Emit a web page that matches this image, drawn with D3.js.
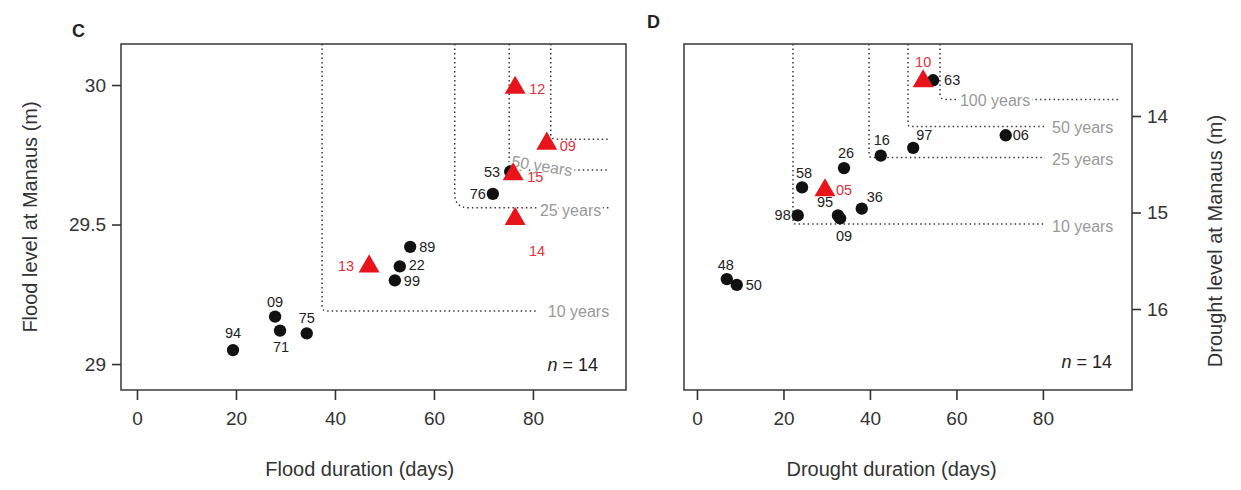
<!DOCTYPE html>
<html>
<head>
<meta charset="utf-8">
<script src="https://cdn.jsdelivr.net/npm/d3@7"></script>
<style>
  body { margin: 0; background: #fff; }
  text { font-family: "Liberation Sans", Arial, sans-serif; }
</style>
</head>
<body>
<script>
// ---- panel C: floods ----
const floodYears = ["94", "09", "71", "75", "13", "22", "99", "89", "14", "76", "53", "15", "09", "12"];
const floodDays  = [19.4, 27.9, 28.9, 34.3, 46.9, 53.1, 52.1, 55.2, 76.4, 71.9, 75.4, 76.0, 82.8, 76.4];
const floodLevel = [29.05, 29.17, 29.12, 29.11, 29.35, 29.35, 29.30, 29.42, 29.52, 29.61, 29.69, 29.68, 29.79, 29.99];
const floodRecent = [0, 0, 0, 0, 1, 0, 0, 0, 1, 0, 0, 1, 1, 1];

const floodRpLabel = ["10 years", "25 years", "50 years", ""];
const floodRpDays  = [37.4, 64.2, 75.2, 83.6];
const floodRpLevel = [29.19, 29.56, 29.695, 29.806];

// ---- panel D: droughts ----
const droughtYears = ["10", "63", "97", "16", "06", "26", "58", "05", "36", "98", "95", "09", "48", "50"];
const droughtDays  = [52.3, 54.6, 50.0, 42.5, 71.4, 34.0, 24.3, 29.6, 38.1, 23.3, 32.6, 33.1, 6.9, 9.2];
const droughtLevel = [13.64, 13.63, 14.33, 14.41, 14.20, 14.54, 14.74, 14.77, 14.96, 15.03, 15.03, 15.06, 15.69, 15.75];
const droughtRecent = [1, 0, 0, 0, 0, 0, 0, 1, 0, 0, 0, 0, 0, 0];

const droughtRpLabel = ["10 years", "25 years", "50 years", "100 years"];
const droughtRpDays  = [22.2, 39.8, 48.8, 56.2];
const droughtRpLevel = [15.12, 14.43, 14.11, 13.83];

const xTicks = [0, 20, 40, 60, 80];
const floodTicks = [29, 29.5, 30];
const droughtTicks = [14, 15, 16];

// label placement (style only): [dx, dy, anchor]
const floodPlace = [[0,-17,"middle"],[0,-15,"middle"],[1,16,"middle"],[0,-15,"middle"],[-15,0,"end"],
  [9,-1,"start"],[9,1,"start"],[9,0,"start"],[22,32,"middle"],[-7,0,"end"],[-10,0,"end"],
  [14,3,"start"],[13,2,"start"],[14,1,"start"]];
const droughtPlace = [[0,-19,"middle"],[11,0,"start"],[3,-13,"start"],[1,-16,"middle"],[7,0,"start"],
  [2,-15,"middle"],[2,-14,"middle"],[11,0,"start"],[5,-12,"start"],[-7,0,"end"],[-13,-13,"middle"],
  [4,18,"middle"],[-1,-14,"middle"],[9,0,"start"]];

const RED = "#e8141c", REDTXT = "#e0313c", DARK = "#333", GREY = "#999";
const W = 1241, H = 490;

const svg = d3.select("body").append("svg")
    .attr("width", W).attr("height", H)
    .attr("viewBox", [0, 0, W, H]);

function drawPanel(o) {
    const x = d3.scaleLinear().domain(o.xDomain).range([o.left, o.right]);
    const y = d3.scaleLinear().domain(o.yDomain).range([o.bottom, o.top]);
    const g = svg.append("g");

    // return-period curves
    const rp = g.append("g");
    o.rpDays.forEach((dd, i) => {
        const xv = x(dd), yh = y(o.rpLevel[i]), xe = x(o.rpEnd[i]), r = o.rpRadius[i];
        rp.append("path")
            .attr("d", `M${xv},${o.top} L${xv},${yh - r} Q${xv},${yh} ${xv + r},${yh} L${xe},${yh}`)
            .attr("fill", "none")
            .attr("stroke", "#3a3a3a")
            .attr("stroke-width", 1.5)
            .attr("stroke-dasharray", "1.5,3");
        if (o.rpLabel[i]) {
            const t = rp.append("text")
                .attr("x", x(o.rpLabelDays[i]))
                .attr("y", y(o.rpLevel[i]) + o.rpLabelDy[i])
                .attr("dominant-baseline", "central")
                .attr("font-size", 16)
                .attr("fill", GREY)
                .attr("stroke", "#fff").attr("stroke-width", 5)
                .attr("paint-order", "stroke")
                .text(o.rpLabel[i]);
            if (o.rpLabelRot[i]) {
                t.attr("transform", `rotate(${o.rpLabelRot[i]},${x(o.rpLabelDays[i])},${y(o.rpLevel[i]) + o.rpLabelDy[i]})`);
            }
        }
    });

    // box
    g.append("rect")
        .attr("x", o.left).attr("y", o.top)
        .attr("width", o.right - o.left).attr("height", o.bottom - o.top)
        .attr("fill", "none").attr("stroke", "#444").attr("stroke-width", 1.6);

    // axes
    const xAxis = g.append("g")
        .attr("transform", `translate(0,${o.bottom})`)
        .call(d3.axisBottom(x).tickValues(xTicks).tickSize(10).tickPadding(12));
    const yAxis = g.append("g")
        .attr("transform", `translate(${o.yRight ? o.right : o.left},0)`)
        .call((o.yRight ? d3.axisRight(y) : d3.axisLeft(y))
            .tickValues(o.yTicks).tickSize(9).tickPadding(6).tickFormat(d => String(d)));
    [xAxis, yAxis].forEach(a => {
        a.select(".domain").remove();
        a.selectAll("line").attr("stroke", "#333").attr("stroke-width", 1.6);
        a.selectAll("text").attr("font-size", 19).attr("fill", DARK)
            .attr("font-family", "'Liberation Sans', Arial, sans-serif");
    });

    // titles
    g.append("text")
        .attr("x", x(45)).attr("y", 469)
        .attr("text-anchor", "middle").attr("dominant-baseline", "central")
        .attr("font-size", 20).attr("fill", DARK)
        .text(o.xTitle);
    const ty = (o.top + o.bottom) / 2 + o.yTitleShift;
    g.append("text")
        .attr("transform", `translate(${o.yTitleX},${ty}) rotate(-90)`)
        .attr("text-anchor", "middle").attr("dominant-baseline", "central")
        .attr("font-size", 20).attr("fill", DARK)
        .text(o.yTitle);
    g.append("text")
        .attr("x", o.letterX).attr("y", o.letterY)
        .attr("font-size", 18).attr("font-weight", "bold").attr("fill", "#222")
        .text(o.letter);

    const nt = g.append("text")
        .attr("x", o.nX).attr("y", o.nY)
        .attr("text-anchor", "end").attr("dominant-baseline", "central")
        .attr("font-size", 18).attr("fill", "#222");
    nt.append("tspan").attr("font-style", "italic").text("n");
    nt.append("tspan").text(" = " + o.days.length);

    // points
    const idx = d3.range(o.days.length);
    const circles = d3.symbol().type(d3.symbolCircle).size(120);
    const tris = d3.symbol().type(d3.symbolTriangle).size(190);
    g.append("g").selectAll("path")
        .data(idx.filter(i => !o.recent[i]).concat(idx.filter(i => o.recent[i])))
        .join("path")
        .attr("transform", i => `translate(${x(o.days[i])},${y(o.level[i])})`)
        .attr("d", i => o.recent[i] ? tris() : circles())
        .attr("fill", i => o.recent[i] ? RED : "#111");

    g.append("g").selectAll("text")
        .data(idx)
        .join("text")
        .attr("x", i => x(o.days[i]) + o.place[i][0])
        .attr("y", i => y(o.level[i]) + o.place[i][1])
        .attr("text-anchor", i => o.place[i][2])
        .attr("dominant-baseline", "central")
        .attr("font-size", 14.5)
        .attr("fill", i => o.recent[i] ? REDTXT : "#222")
        .text(i => o.years[i]);
}

drawPanel({
    letter: "C", letterX: 72, letterY: 37,
    left: 121, right: 626, top: 44, bottom: 390,
    xDomain: [-3.23, 98.8], yDomain: [28.907, 30.147],
    yTicks: floodTicks, yRight: false,
    xTitle: "Flood duration (days)", yTitle: "Flood level at Manaus (m)",
    yTitleX: 30, yTitleShift: 0,
    nX: 598, nY: 365,
    years: floodYears, days: floodDays, level: floodLevel, recent: floodRecent, place: floodPlace,
    rpLabel: floodRpLabel, rpDays: floodRpDays, rpLevel: floodRpLevel,
    rpEnd: [81, 95.5, 95.5, 95.5], rpRadius: [5, 14, 4, 5],
    rpLabelDays: [83, 81.4, 75.7, 0], rpLabelDy: [0, 3, -9, 0], rpLabelRot: [0, 0, 9, 0]
});

drawPanel({
    letter: "D", letterX: 647, letterY: 28,
    left: 684, right: 1132, top: 44, bottom: 390,
    xDomain: [-3.0, 100.6], yDomain: [16.839, 13.254],
    yTicks: droughtTicks, yRight: true,
    xTitle: "Drought duration (days)", yTitle: "Drought level at Manaus (m)",
    yTitleX: 1215, yTitleShift: 24,
    nX: 1112, nY: 362,
    years: droughtYears, days: droughtDays, level: droughtLevel, recent: droughtRecent, place: droughtPlace,
    rpLabel: droughtRpLabel, rpDays: droughtRpDays, rpLevel: droughtRpLevel,
    rpEnd: [80.5, 80.5, 80.5, 97.8], rpRadius: [3, 3, 3, 6],
    rpLabelDays: [82.1, 82.1, 82.1, 60.8], rpLabelDy: [2, 2, 1, 1], rpLabelRot: [0, 0, 0, 0]
});
</script>
</body>
</html>
